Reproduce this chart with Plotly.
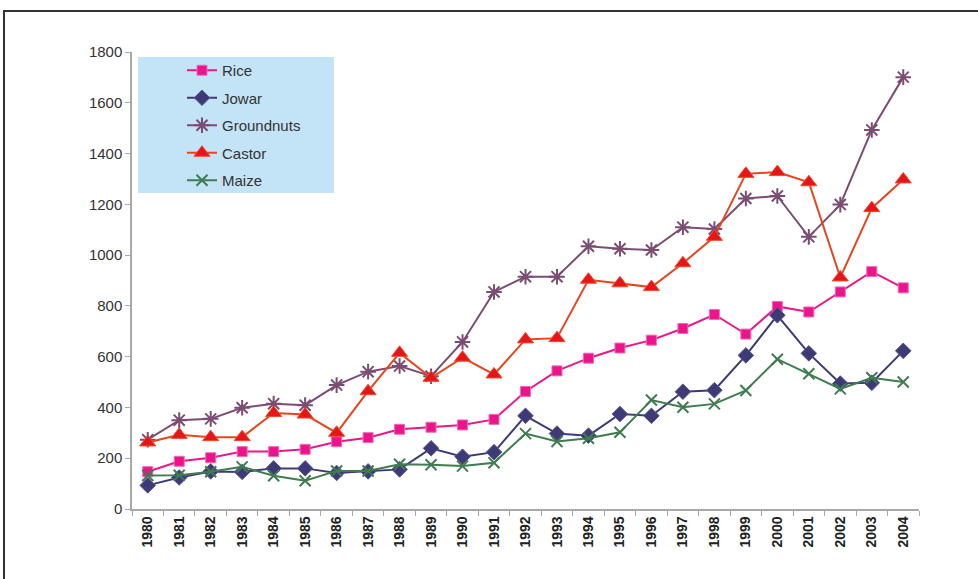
import plotly.graph_objects as go

years = [str(y) for y in range(1980, 2005)]
rice = [147, 188, 202, 226, 226, 235, 265, 281, 314, 322, 331, 353, 463, 544, 594, 634, 665, 711, 766, 689, 798, 776, 855, 935, 871]
jowar = [93, 124, 148, 146, 160, 160, 142, 148, 156, 239, 206, 224, 367, 297, 289, 374, 367, 462, 468, 605, 763, 613, 494, 497, 623]
groundnuts = [273, 350, 355, 399, 415, 409, 488, 541, 563, 523, 658, 855, 915, 915, 1035, 1025, 1020, 1110, 1103, 1223, 1233, 1072, 1199, 1493, 1701]
castor = [262, 292, 283, 283, 378, 372, 300, 464, 615, 517, 596, 530, 668, 673, 903, 889, 874, 968, 1072, 1320, 1327, 1287, 912, 1185, 1298]
maize = [132, 133, 147, 166, 131, 111, 150, 150, 176, 174, 169, 182, 297, 266, 279, 302, 429, 401, 414, 467, 590, 533, 473, 517, 500]

yticks = [0, 200, 400, 600, 800, 1000, 1200, 1400, 1600, 1800]

series = [
    ("Rice", rice, "#E8178A", dict(symbol="square", size=10, color="#EC148C", line=dict(color="#F06BB0", width=1))),
    ("Jowar", jowar, "#3D3A74", dict(symbol="diamond", size=12, color="#3E3A76", line=dict(color="#5A5690", width=1))),
    ("Groundnuts", groundnuts, "#7C4D72", dict(symbol="asterisk-open", size=13, color="#7C4D72", line=dict(color="#7C4D72", width=2))),
    ("Castor", castor, "#E4461E", dict(symbol="triangle-up", size=14, color="#E5161A", line=dict(color="#F04A2A", width=1))),
    ("Maize", maize, "#3F7C50", dict(symbol="x-thin-open", size=11, color="#3F7C50", line=dict(color="#3F7C50", width=2))),
]

fig = go.Figure()
for i, (name, vals, lc, mk) in enumerate(series):
    fig.add_trace(go.Scatter(
        x=years, y=vals, name=name, mode="lines+markers",
        line=dict(color=lc, width=2), marker=mk, legendgroup=f"g{i}",
    ))

W = 919 - 132
H = 509 - 52

def px(x):
    return (x - 132) / W

def py(y):
    return (509 - y) / H

fig.update_layout(
    width=978, height=579,
    margin=dict(l=132, r=59, t=52, b=70),
    paper_bgcolor="white", plot_bgcolor="white",
    font=dict(family="Liberation Sans, Arial, sans-serif", size=15, color="#333333"),
    showlegend=True,
    legend=dict(
        x=px(182), y=py(54), xanchor="left", yanchor="top",
        bgcolor="rgba(0,0,0,0)", borderwidth=0,
        traceorder="grouped", tracegroupgap=5,
        font=dict(size=15, color="#333333"),
    ),
    shapes=[
        dict(type="rect", xref="paper", yref="paper", layer="below",
             x0=px(138), x1=px(334), y0=py(193), y1=py(57),
             fillcolor="#C3E4F6", line=dict(width=0)),
        dict(type="rect", xref="paper", yref="paper", layer="above",
             x0=px(4), x1=px(990), y0=py(595), y1=py(11),
             fillcolor="rgba(0,0,0,0)", line=dict(color="#333333", width=2)),
    ],
)

fig.update_xaxes(
    type="category", range=[-0.5, 24.5], tickangle=-90, showgrid=False,
    showline=True, linecolor="#A8A8A8", linewidth=1.5,
    ticks="outside", tickson="boundaries", ticklen=5, tickcolor="#A8A8A8",
    tickfont=dict(size=14, color="#222222", family="Liberation Sans, Arial, sans-serif", weight="bold"),
)
fig.update_yaxes(
    range=[0, 1800], tickvals=yticks, showgrid=False, zeroline=False,
    showline=True, linecolor="#A8A8A8", linewidth=1.5,
    ticks="outside", ticklen=5, tickcolor="#A8A8A8",
    tickfont=dict(size=15, color="#333333"),
)

fig.write_html("out.html")
